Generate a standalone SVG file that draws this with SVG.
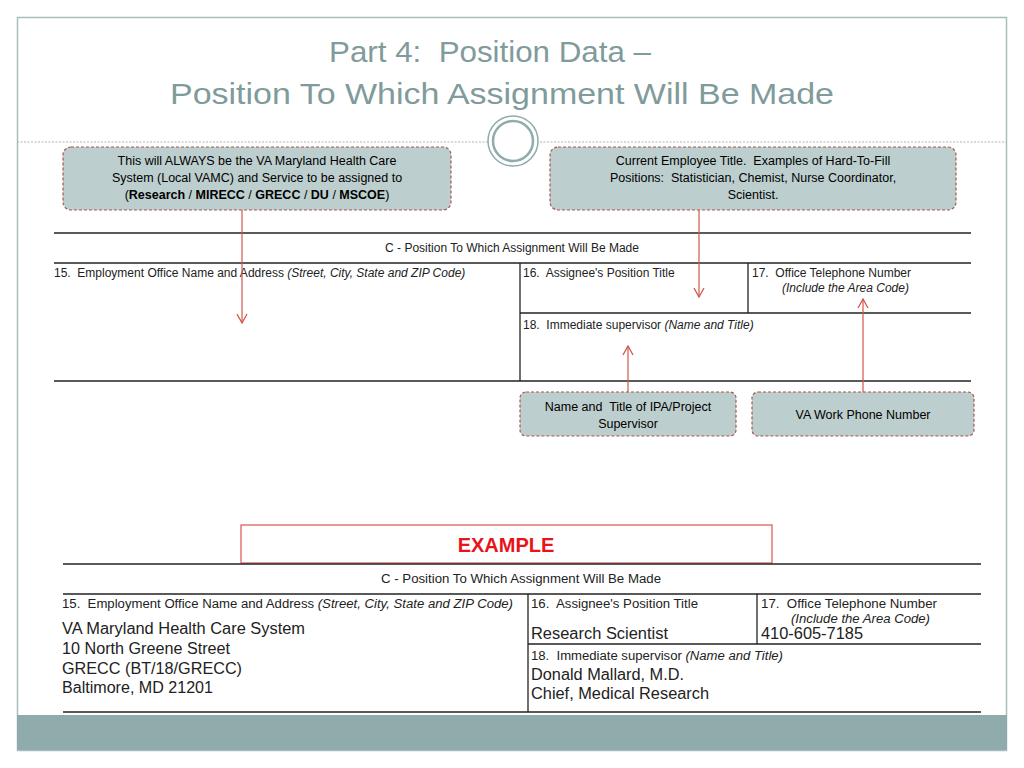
<svg xmlns="http://www.w3.org/2000/svg" width="1024" height="768" viewBox="0 0 1024 768">
<defs>
<style>
text{font-family:"Liberation Sans",Arial,sans-serif;fill:#000;white-space:pre}
.title{font-size:30px;fill:#7F9B9B;text-anchor:middle}
.call{fill:#BDCECE;stroke:#A6574E;stroke-width:1.2;stroke-dasharray:3,2}
.ct{font-size:12.5px;text-anchor:middle}
.fl{stroke:#222;stroke-width:1.3;fill:none}
.ft{font-size:12px;fill:#222}
.ex{font-size:12px;fill:#222}
.big{font-size:16px;fill:#222}
.arr{stroke:#D0574A;stroke-width:1.2;fill:none;marker-end:url(#ah)}
</style>
<marker id="ah" markerWidth="12" markerHeight="12" refX="11" refY="6" orient="auto" viewBox="0 0 12 12" markerUnits="userSpaceOnUse"><path d="M2,1 L11,6 L2,11" fill="none" stroke="#D0574A" stroke-width="1.3"/></marker>
</defs>
<rect width="1024" height="768" fill="#fff"/>
<g id="frame">
<rect x="17.5" y="17.5" width="989" height="733" fill="none" stroke="#A9BDBD" stroke-width="1.5"/>
<rect x="17" y="715" width="990" height="35" fill="#8FABAB"/>
<line x1="17" y1="142" x2="488" y2="142" stroke="#B0B0B0" stroke-dasharray="2,1.5"/>
<line x1="540" y1="142" x2="1007" y2="142" stroke="#B0B0B0" stroke-dasharray="2,1.5"/>
<circle cx="513" cy="141" r="25" fill="#fff" stroke="#8FABAB" stroke-width="1.5"/>
<circle cx="513" cy="141" r="20" fill="#fff" stroke="#8FABAB" stroke-width="2.5"/>
<text class="title" x="490" y="62" textLength="322" lengthAdjust="spacingAndGlyphs">Part 4:  Position Data –</text>
<text class="title" x="502" y="104" textLength="664" lengthAdjust="spacingAndGlyphs">Position To Which Assignment Will Be Made</text>
</g>
<g id="form-top">
<line class="fl" x1="54" y1="233" x2="971" y2="233"/>
<line class="fl" x1="54" y1="263" x2="971" y2="263"/>
<line class="fl" x1="520" y1="263" x2="520" y2="381"/>
<line class="fl" x1="748" y1="263" x2="748" y2="313"/>
<line class="fl" x1="520" y1="313" x2="971" y2="313"/>
<line class="fl" x1="54" y1="381" x2="971" y2="381"/>
<text class="ft" x="512" y="252" text-anchor="middle">C - Position To Which Assignment Will Be Made</text>
<text class="ft" x="54" y="277">15.  Employment Office Name and Address <tspan font-style="italic">(Street, City, State and ZIP Code)</tspan></text>
<text class="ft" x="523" y="277">16.  Assignee's Position Title</text>
<text class="ft" x="752" y="277">17.  Office Telephone Number</text>
<text class="ft" x="782" y="292" font-style="italic">(Include the Area Code)</text>
<text class="ft" x="523" y="329">18.  Immediate supervisor <tspan font-style="italic">(Name and Title)</tspan></text>
</g>
<g id="connectors">
<line class="arr" x1="242" y1="210" x2="242" y2="323"/>
<line class="arr" x1="699" y1="210" x2="699" y2="297"/>
<line class="arr" x1="628" y1="392" x2="628" y2="346"/>
<line class="arr" x1="863" y1="392" x2="863" y2="299"/>
</g>
<g id="callout1">
<rect class="call" x="63" y="147" width="388" height="63" rx="8"/>
<text class="ct" x="257" y="165">This will ALWAYS be the VA Maryland Health Care</text>
<text class="ct" x="257" y="182">System (Local VAMC) and Service to be assigned to</text>
<text class="ct" x="257" y="199">(<tspan font-weight="bold">Research</tspan> / <tspan font-weight="bold">MIRECC</tspan> / <tspan font-weight="bold">GRECC</tspan> / <tspan font-weight="bold">DU</tspan> / <tspan font-weight="bold">MSCOE</tspan>)</text>
</g>
<g id="callout2">
<rect class="call" x="550" y="147" width="406" height="63" rx="8"/>
<text class="ct" x="753" y="165">Current Employee Title.  Examples of Hard-To-Fill</text>
<text class="ct" x="753" y="182">Positions:  Statistician, Chemist, Nurse Coordinator,</text>
<text class="ct" x="753" y="199">Scientist.</text>
</g>
<g id="callout3">
<rect class="call" x="520" y="392" width="216" height="44" rx="6"/>
<text class="ct" x="628" y="411">Name and  Title of IPA/Project</text>
<text class="ct" x="628" y="428">Supervisor</text>
</g>
<g id="callout4">
<rect class="call" x="752" y="392" width="222" height="44" rx="6"/>
<text class="ct" x="863" y="419">VA Work Phone Number</text>
</g>
<g id="example">
<rect x="241" y="525" width="531" height="38" fill="#fff" stroke="#E06060" stroke-width="1.3"/>
<text x="506" y="552" text-anchor="middle" font-size="20" font-weight="bold" style="fill:#E8141C">EXAMPLE</text>
<line class="fl" x1="63" y1="564" x2="981" y2="564"/>
<line class="fl" x1="63" y1="594" x2="981" y2="594"/>
<line class="fl" x1="528" y1="594" x2="528" y2="712"/>
<line class="fl" x1="757" y1="594" x2="757" y2="644"/>
<line class="fl" x1="528" y1="644" x2="981" y2="644"/>
<line class="fl" x1="63" y1="712" x2="981" y2="712"/>
<text class="ex" x="521" y="583" text-anchor="middle" textLength="280" lengthAdjust="spacingAndGlyphs">C - Position To Which Assignment Will Be Made</text>
<text class="ex" x="62" y="608" textLength="451" lengthAdjust="spacingAndGlyphs">15.  Employment Office Name and Address <tspan font-style="italic">(Street, City, State and ZIP Code)</tspan></text>
<text class="ex" x="531" y="608" textLength="167" lengthAdjust="spacingAndGlyphs">16.  Assignee's Position Title</text>
<text class="ex" x="761" y="608" textLength="176" lengthAdjust="spacingAndGlyphs">17.  Office Telephone Number</text>
<text class="ex" x="791" y="623" font-style="italic" textLength="139" lengthAdjust="spacingAndGlyphs">(Include the Area Code)</text>
<text class="ex" x="531" y="660" textLength="252" lengthAdjust="spacingAndGlyphs">18.  Immediate supervisor <tspan font-style="italic">(Name and Title)</tspan></text>
<text class="big" x="62" y="634" textLength="243" lengthAdjust="spacingAndGlyphs">VA Maryland Health Care System</text>
<text class="big" x="62" y="654" textLength="168" lengthAdjust="spacingAndGlyphs">10 North Greene Street</text>
<text class="big" x="62" y="674" textLength="180" lengthAdjust="spacingAndGlyphs">GRECC (BT/18/GRECC)</text>
<text class="big" x="62" y="693" textLength="151" lengthAdjust="spacingAndGlyphs">Baltimore, MD 21201</text>
<text class="big" x="531" y="639" textLength="137" lengthAdjust="spacingAndGlyphs">Research Scientist</text>
<text class="big" x="761" y="639" textLength="102" lengthAdjust="spacingAndGlyphs">410-605-7185</text>
<text class="big" x="531" y="680" textLength="153" lengthAdjust="spacingAndGlyphs">Donald Mallard, M.D.</text>
<text class="big" x="531" y="699" textLength="178" lengthAdjust="spacingAndGlyphs">Chief, Medical Research</text>
</g>
</svg>
